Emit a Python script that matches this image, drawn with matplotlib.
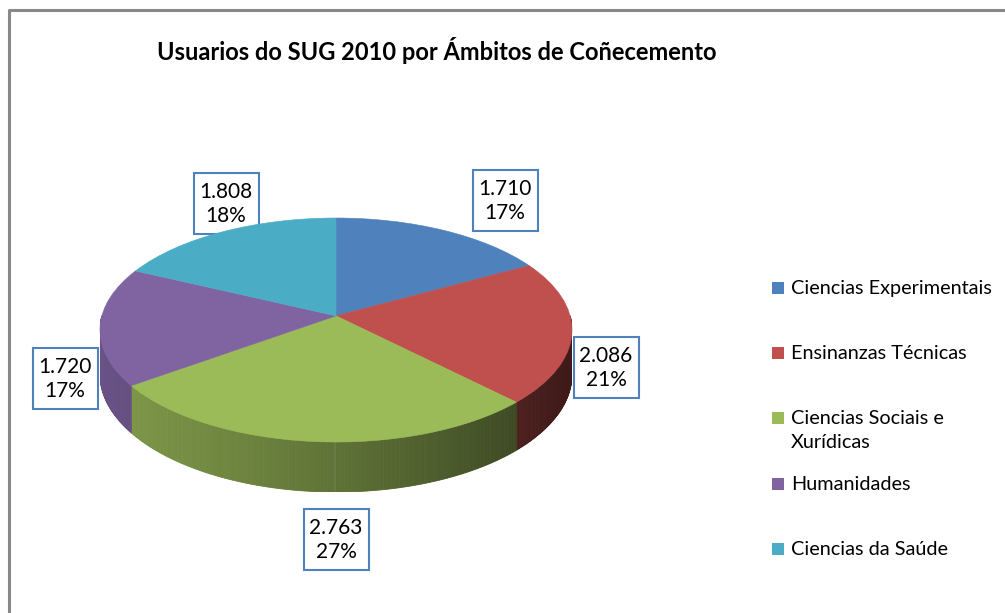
import numpy as np
import matplotlib
matplotlib.use("Agg")
import matplotlib.pyplot as plt
from matplotlib.collections import PolyCollection
from matplotlib.patches import Rectangle
from matplotlib.colors import to_rgb
from matplotlib.transforms import Transform

categories = ["Ciencias Experimentais", "Ensinanzas Técnicas",
              "Ciencias Sociais e\nXurídicas", "Humanidades", "Ciencias da Saúde"]
values = [1710, 2086, 2763, 1720, 1808]
colors = ["#4F81BD", "#C0504D", "#9BBB59", "#8064A2", "#4BACC6"]
title = "Usuarios do SUG 2010 por Ámbitos de Coñecemento"

FONT = "Lato"
W, H = 1005, 613
K = 0.126  # perspective strength


class Persp(Transform):
    """Tilted-disk perspective: unit disk -> projected ellipse."""
    input_dims = output_dims = 2
    is_separable = False
    has_inverse = False

    def transform_non_affine(self, xy):
        xy = np.asarray(xy, float)
        u, v = xy[:, 0], xy[:, 1]
        w = 1 + K * v
        return np.column_stack([np.sqrt(1 - K * K) * u / w, (v + K) / w])


fig = plt.figure(figsize=(W / 100, H / 100), dpi=100)
fig.patch.set_facecolor("white")

bg = fig.add_axes([0, 0, 1, 1])
bg.set_xlim(0, W)
bg.set_ylim(H, 0)
bg.axis("off")
bg.plot([9, 9, W + 5], [H + 5, 10, 10], color="#888888", lw=2.2, solid_capstyle="butt")

# pie geometry (pixels)
cx, cy, a, b = 336, 330, 236, 112
depth_front = 50
D = depth_front * (1 - K) / b
dmax = depth_front / b
pax = fig.add_axes([(cx - a) / W, (H - (cy + b + depth_front)) / H, 2 * a / W,
                    (2 * b + depth_front) / H])
pax.axis("off")

total = sum(values)
fr = np.array(values) / total
cum = np.concatenate([[0], np.cumsum(fr)])
P = Persp()

# side walls (front half)
polys, pcols = [], []
for i in range(len(values)):
    t1 = 90 - cum[i + 1] * 360
    t2 = 90 - cum[i] * 360
    lo, hi = max(t1, -180), min(t2, 0)
    if lo >= hi:
        continue
    ts = np.radians(np.linspace(lo, hi, max(int((hi - lo) * 2), 2)))
    rim = P.transform(np.column_stack([np.cos(ts), np.sin(ts)]))
    wv = 1 + K * np.sin(ts)
    low = rim - np.column_stack([np.zeros_like(ts), D / wv])
    base = np.array(to_rgb(colors[i]))
    for j in range(len(ts) - 1):
        polys.append([rim[j], rim[j + 1], low[j + 1], low[j]])
        xm = (rim[j, 0] + rim[j + 1, 0]) / 2
        f = 0.61 - 0.25 * xm - 0.04 * xm * xm
        pcols.append(np.clip(base * f, 0, 1))
pc = PolyCollection(polys, facecolors=pcols, edgecolors=pcols, linewidths=0.6)
pax.add_collection(pc)

# top surface
wedges, _ = pax.pie(values, colors=colors, startangle=90, counterclock=False, radius=1,
                    wedgeprops=dict(linewidth=0.4))
for w, c in zip(wedges, colors):
    w.set_edgecolor(c)
    w.set_transform(P + pax.transData)
pax.set_aspect("auto")
pax.set_xlim(-1, 1)
pax.set_ylim(-1 - dmax, 1)

# data labels
label_pos = [(505, 200), (606, 367), (336, 539), (65, 378), (226, 203)]
bw, bh = 65, 61
for v, (lx, ly) in zip(values, label_pos):
    bg.add_patch(Rectangle((lx - bw / 2, ly - bh / 2), bw, bh, facecolor="white",
                           edgecolor="#4F81BD", lw=1.5, zorder=5))
    txt = f"{v:,}".replace(",", ".") + "\n" + f"{round(100 * v / total)}%"
    bg.text(lx, ly + 1, txt, ha="center", va="center", fontsize=15, family=FONT,
            linespacing=1.28, zorder=6, color="black")

# title
bg.text(437, 50, title, ha="center", va="center", fontsize=17, fontweight="bold",
        family=FONT, color="black")

# legend
leg_y = [288, 353, 418, 484, 549]
for cat, c, y in zip(categories, colors, leg_y):
    bg.add_patch(Rectangle((772, y - 6), 12, 12, facecolor=c, edgecolor="none"))
    bg.text(791, y - 8, cat, ha="left", va="top", fontsize=14.3, family=FONT,
            linespacing=1.5, color="black")

fig.savefig("out.png", dpi=100, facecolor="white")
